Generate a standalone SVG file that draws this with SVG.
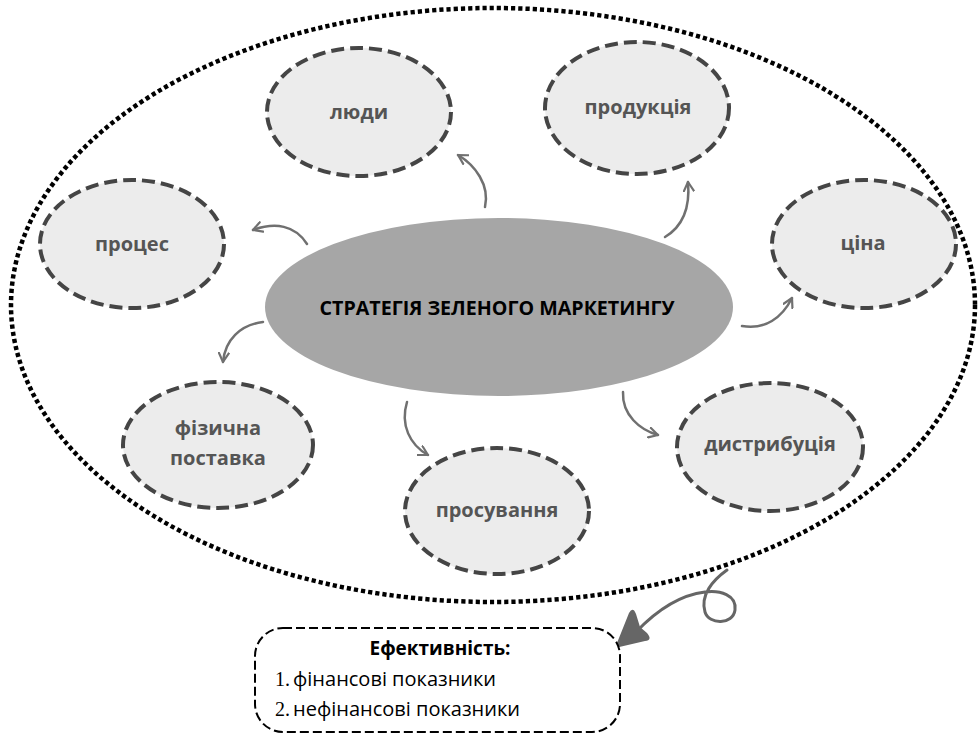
<svg xmlns="http://www.w3.org/2000/svg" width="978" height="734" viewBox="0 0 978 734">
<defs>
<marker id="chev" viewBox="0 0 12 12" refX="10" refY="6" markerWidth="12" markerHeight="12" markerUnits="userSpaceOnUse" orient="auto">
<path d="M1,1 L10,6 L1,11" fill="none" stroke="#707070" stroke-width="2.2" stroke-linecap="round" stroke-linejoin="round"/>
</marker>
<style>
.outer{fill:none;stroke:#000;stroke-width:4.5;stroke-dasharray:4.2 3}
.node{fill:#ececec;stroke:#454545;stroke-width:4;stroke-dasharray:13 6}
.lbl{font-family:"Open Sans","Noto Sans",sans-serif;font-weight:bold;font-size:20px;fill:#555;text-anchor:middle;dominant-baseline:central}
.conn{fill:none;stroke:#707070;stroke-width:2.5;stroke-linecap:round;marker-end:url(#chev)}
.box{fill:#fff;stroke:#000;stroke-width:2;stroke-dasharray:9 4}
.t{font-family:"Open Sans","Noto Sans",sans-serif;fill:#000}
</style>
</defs>
<rect width="978" height="734" fill="#fff"/>
<ellipse id="outer" class="outer" cx="493" cy="305" rx="482" ry="297"/>
<g id="center">
<ellipse cx="499" cy="307" rx="234" ry="89" fill="#a6a6a6"/>
<text x="497" y="307" font-family="'Open Sans','Noto Sans',sans-serif" font-weight="bold" font-size="20" fill="#000" text-anchor="middle" dominant-baseline="central" textLength="355" lengthAdjust="spacingAndGlyphs">СТРАТЕГІЯ ЗЕЛЕНОГО МАРКЕТИНГУ</text>
</g>
<g id="n-lyudy"><ellipse class="node" cx="359" cy="112" rx="92" ry="64"/><text class="lbl" x="359" y="111">люди</text></g>
<g id="n-produktsiya"><ellipse class="node" cx="637" cy="108" rx="92" ry="66"/><text class="lbl" x="638" y="106">продукція</text></g>
<g id="n-protses"><ellipse class="node" cx="132" cy="244" rx="92" ry="64"/><text class="lbl" x="132" y="243">процес</text></g>
<g id="n-tsina"><ellipse class="node" cx="864" cy="244" rx="92" ry="64"/><text class="lbl" x="863" y="242">ціна</text></g>
<g id="n-fizychna"><ellipse class="node" cx="218" cy="445" rx="95" ry="63"/><text class="lbl" x="218" y="427">фізична</text><text class="lbl" x="218" y="457">поставка</text></g>
<g id="n-prosuvannya"><ellipse class="node" cx="497" cy="511" rx="92" ry="63"/><text class="lbl" x="497" y="509">просування</text></g>
<g id="n-dystrybutsiya"><ellipse class="node" cx="770" cy="447" rx="93" ry="64"/><text class="lbl" x="770" y="443">дистрибуція</text></g>
<g id="connectors">
<path class="conn" d="M485,207 C490,185 475,165 458,155"/>
<path class="conn" d="M307,244 C295,225 275,222 253,230"/>
<path class="conn" d="M665,237 C685,225 690,205 688,182"/>
<path class="conn" d="M742,326 C765,330 782,318 792,298"/>
<path class="conn" d="M263,322 C240,325 225,340 223,362"/>
<path class="conn" d="M407,402 C400,425 410,445 428,455"/>
<path class="conn" d="M623,392 C622,415 640,430 658,435"/>
<path d="M727,570 C713,580 700,595 705,612 C709,625 733,625 735,610 C737,595 720,590 705,592 C680,595 657,610 636,632" fill="none" stroke="#666" stroke-width="3" stroke-linecap="round"/>
<path d="M615,648 L629,613 Q633,606 636,614 L640,627 L647,633 Q653,640 645,641 Z" fill="#666"/>
</g>
<g id="efficiency">
<rect class="box" x="255" y="628" width="365" height="104" rx="28"/>
<text class="t" x="440" y="655" font-weight="bold" font-size="19" text-anchor="middle">Ефективність:</text>
<text class="t" x="275" y="686" font-size="20"><tspan font-family="'Liberation Serif',serif">1.</tspan><tspan dx="3">фінансові показники</tspan></text>
<text class="t" x="275" y="716" font-size="20"><tspan font-family="'Liberation Serif',serif">2.</tspan><tspan dx="3">нефінансові показники</tspan></text>
</g>
</svg>
